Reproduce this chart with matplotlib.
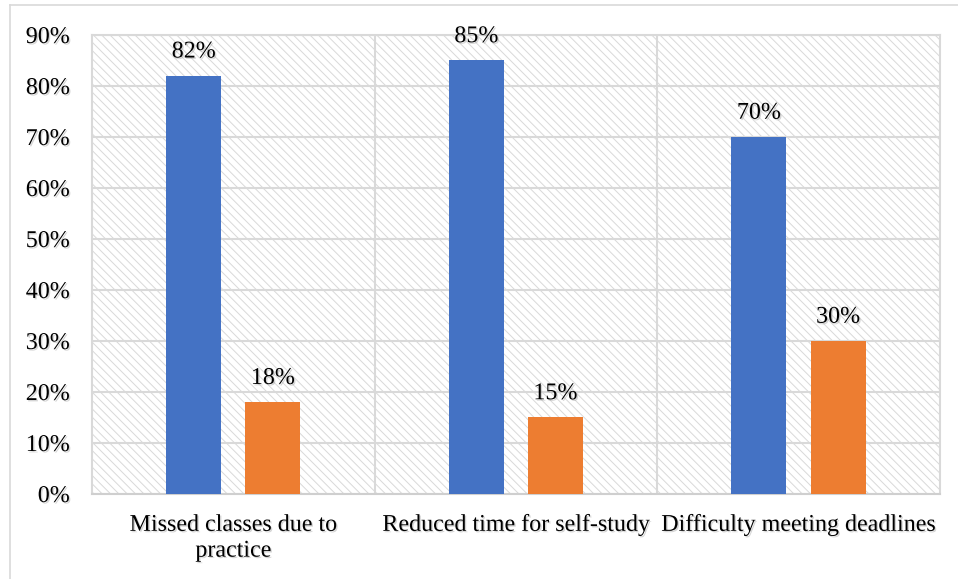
import numpy as np
import matplotlib
matplotlib.use("Agg")
import matplotlib.pyplot as plt
import matplotlib.patheffects as pe
from matplotlib.lines import Line2D

# survey answers per problem (share of respondents)
categories = ["Missed classes due to\npractice", "Reduced time for self-study", "Difficulty meeting deadlines"]
yes_share = [0.82, 0.85, 0.70]
no_share = [0.18, 0.15, 0.30]
y_ticks = [0.0, 0.1, 0.2, 0.3, 0.4, 0.5, 0.6, 0.7, 0.8, 0.9]

plt.rcParams['font.family'] = ['Liberation Serif', 'DejaVu Serif']
plt.rcParams['hatch.color'] = '#d9d9d9'
plt.rcParams['hatch.linewidth'] = 0.7

grid_col = '#d9d9d9'
fs = 17.3
shadow = [pe.SimplePatchShadow(offset=(1, -1), shadow_rgbFace='#888888', alpha=0.35), pe.Normal()]

fig = plt.figure(figsize=(9.58, 5.79), dpi=100)
ax = fig.add_axes([0.096, 0.1468, 0.885, 0.7928])

# hatched plot area background
ax.patch.set_facecolor('white')
ax.patch.set_hatch('\\\\\\\\')
ax.patch.set_edgecolor('#d9d9d9')

x = np.arange(len(categories))
w = 0.195
off = 0.14
b1 = ax.bar(x - off, yes_share, w, color='#4472C4', zorder=3)
b2 = ax.bar(x + off, no_share, w, color='#ED7D31', zorder=3)

for bars, vals in [(b1, yes_share), (b2, no_share)]:
    for b, v in zip(bars, vals):
        ax.text(b.get_x() + b.get_width() / 2, v + 0.026, f"{round(v * 100)}%",
                ha='center', va='bottom', fontsize=fs, path_effects=shadow, zorder=4)

ax.set_xlim(-0.5, 2.5)
ax.set_ylim(0, 0.9)
ax.set_yticks(y_ticks)
ax.set_yticklabels([f"{round(t * 100)}%" for t in y_ticks])
ax.set_xticks(x)
ax.set_xticklabels(categories, linespacing=1.3)
ax.tick_params(axis='both', length=0, labelsize=fs)
ax.tick_params(axis='y', pad=16)
ax.tick_params(axis='x', pad=15)
for lab in ax.get_xticklabels() + ax.get_yticklabels():
    lab.set_path_effects(shadow)

# gridlines and category separators
ax.grid(axis='y', color=grid_col, linewidth=1.5, zorder=1)
for sep in [0.5, 1.5]:
    ax.axvline(sep, color=grid_col, linewidth=1.5, zorder=1)
ax.set_axisbelow(True)
for s in ['left', 'right', 'top']:
    ax.spines[s].set_color(grid_col)
    ax.spines[s].set_linewidth(1.5)
ax.spines['bottom'].set_color('#cfcfcf')
ax.spines['bottom'].set_linewidth(1.5)

# outer chart frame
fig.add_artist(Line2D([10 / 958, 1], [1 - 5 / 579, 1 - 5 / 579], color=grid_col, linewidth=1.2))
fig.add_artist(Line2D([10 / 958, 10 / 958], [0, 1 - 5 / 579], color=grid_col, linewidth=1.2))

plt.savefig("out.png", dpi=100)
